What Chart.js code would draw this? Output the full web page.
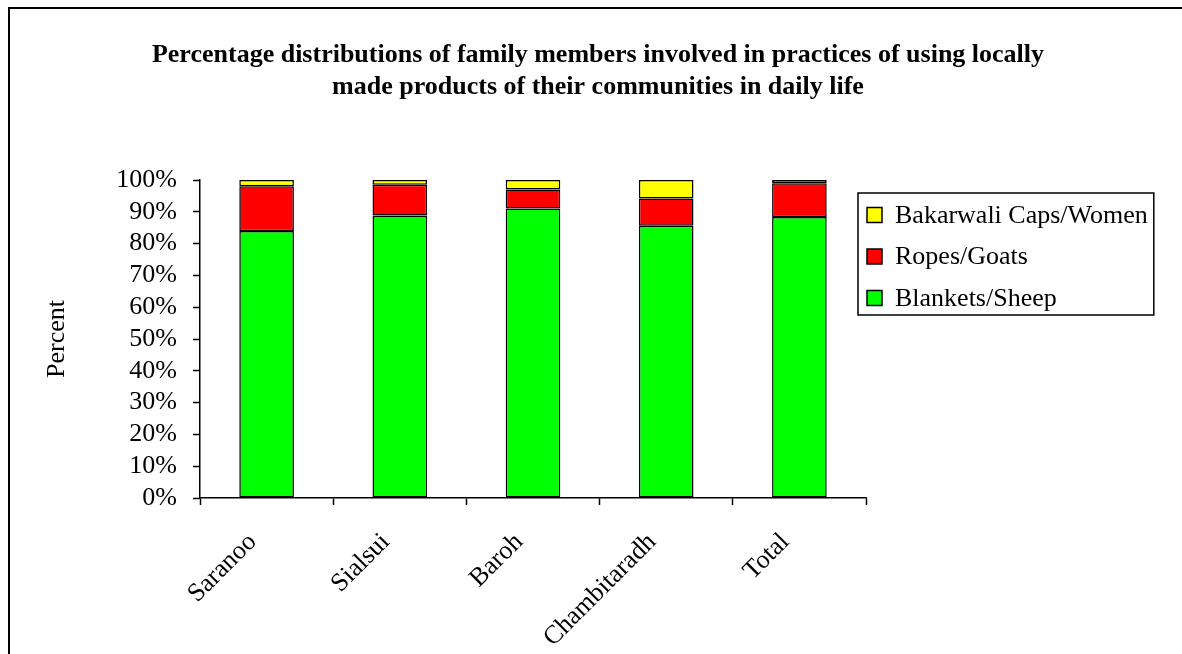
<!DOCTYPE html>
<html>
<head>
<meta charset="utf-8">
<script src="https://cdn.jsdelivr.net/npm/chart.js@4/dist/chart.umd.min.js"></script>
<style>
  html, body { margin: 0; padding: 0; background: #fff; }
  #wrap { width: 1182px; height: 654px; }
</style>
</head>
<body>
<div id="wrap"><canvas id="myChart" width="1182" height="654"></canvas></div>
<script>
var villages = ['Saranoo', 'Sialsui', 'Baroh', 'Chambitaradh', 'Total']
var blankets = [84.0, 88.8, 91.0, 85.6, 88.4]
var ropes = [14.0, 9.7, 6.0, 8.6, 10.6]
var caps = [2.0, 1.5, 3.0, 5.8, 1.0]
var seriesNames = ['Blankets/Sheep', 'Ropes/Goats', 'Bakarwali Caps/Women']
var seriesColors = ['#00ff00', '#ff0000', '#ffff00']
var titleLines = [
  'Percentage distributions of family members involved in practices of using locally',
  'made products of their communities in daily life'
]
var serif = '"Liberation Serif", "Times New Roman", serif'

// page frame: only the left and top edges show
var frame = {
  id: 'frame',
  beforeDraw: function (chart) {
    var ctx = chart.ctx
    ctx.save()
    ctx.fillStyle = '#fff'
    ctx.fillRect(0, 0, chart.width, chart.height)
    ctx.fillStyle = '#000'
    ctx.fillRect(8, 7, 2, chart.height - 7)
    ctx.fillRect(8, 7, chart.width - 8, 2)
    ctx.restore()
  }
}

// boxed legend, top series first
var boxLegend = {
  id: 'boxLegend',
  afterDraw: function (chart) {
    var ctx = chart.ctx
    var a = chart.chartArea
    ctx.save()
    ctx.font = '26px ' + serif
    var sets = chart.data.datasets.slice().reverse()
    var tw = 0
    sets.forEach(function (ds) { tw = Math.max(tw, ctx.measureText(ds.label).width) })
    var x = a.right - 8, y = a.top + 13, w = 37 + tw + 6, h = 122
    ctx.fillStyle = '#fff'
    ctx.fillRect(x, y, w, h)
    ctx.lineWidth = 1.5
    ctx.strokeStyle = '#000'
    ctx.strokeRect(x, y, w, h)
    ctx.textBaseline = 'middle'
    sets.forEach(function (ds, i) {
      var cy = y + 22 + i * 41.5
      ctx.fillStyle = ds.backgroundColor
      ctx.fillRect(x + 9, cy - 7.5, 15, 15)
      ctx.strokeRect(x + 9, cy - 7.5, 15, 15)
      ctx.fillStyle = '#000'
      ctx.fillText(ds.label, x + 37, cy + 1)
    })
    ctx.restore()
  }
}

var datasets = [blankets, ropes, caps].map(function (vals, i) {
  return {
    label: seriesNames[i],
    data: vals,
    backgroundColor: seriesColors[i],
    borderColor: '#000',
    borderWidth: 1.5,
    borderSkipped: false,
    yAxisID: 'y',
    categoryPercentage: 1,
    barPercentage: 0.41
  }
})

var ctx = document.getElementById('myChart').getContext('2d')
var chart = new Chart(ctx, {
  type: 'bar',
  data: { labels: villages, datasets: datasets },
  options: {
    responsive: false,
    animation: false,
    events: [],
    layout: { padding: { left: 42, right: 28, top: 0, bottom: 0 } },
    plugins: {
      legend: { display: false },
      tooltip: { enabled: false },
      title: {
        display: true,
        text: titleLines,
        color: '#000',
        font: { family: serif, size: 26, weight: 'bold', lineHeight: 32 / 26 },
        padding: { top: 39, bottom: 77 }
      }
    },
    scales: {
      x: {
        stacked: true,
        grid: { drawOnChartArea: false, color: '#000', tickLength: 7, tickWidth: 1.5 },
        border: { color: '#000', width: 1.5 },
        ticks: {
          color: '#000', font: { family: serif, size: 26 },
          minRotation: 45, maxRotation: 45, autoSkip: false,
          padding: 22, labelOffset: -14
        },
        afterFit: function (s) { s.height = 156 }
      },
      y: {
        stacked: true,
        min: 0, max: 100,
        grid: { drawOnChartArea: false, color: '#000', tickLength: 7, tickWidth: 1.5 },
        border: { color: '#000', width: 1.5 },
        ticks: {
          stepSize: 10, autoSkip: false, color: '#000', padding: 16,
          font: { family: serif, size: 26 },
          callback: function (v) { return v + '%' }
        },
        title: {
          display: true, text: 'Percent', color: '#000',
          font: { family: serif, size: 26 }, padding: { top: 0, bottom: 0 }
        },
        afterFit: function (s) { s.width = 158 }
      },
      // keeps room on the right for the boxed legend
      pad: {
        type: 'linear', position: 'right', display: true,
        grid: { display: false }, border: { display: false }, ticks: { display: false },
        afterFit: function (s) { s.width = 288 }
      }
    }
  },
  plugins: [frame, boxLegend]
})
</script>
</body>
</html>
